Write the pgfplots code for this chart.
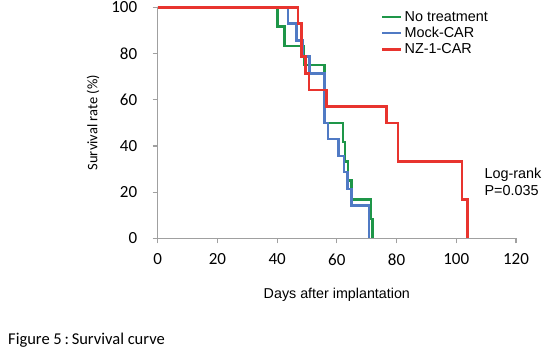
\documentclass[border=0pt]{standalone}
\usepackage{pgfplots}
\pgfplotsset{compat=1.18}
\usepackage{fontspec}
\setmainfont{Liberation Sans}
\newfontfamily\calib{Carlito}
\definecolor{cgreen}{RGB}{30,150,72}
\definecolor{cblue}{RGB}{80,122,196}
\definecolor{cred}{RGB}{232,52,46}
\definecolor{axgray}{RGB}{160,160,160}
\begin{document}
\begin{tikzpicture}[x=1pt,y=1pt]
\path[use as bounding box] (0,0) rectangle (550,357);
\begin{axis}[
  at={(157.7pt,118.7pt)}, anchor=south west,
  scale only axis, width=358.3pt, height=231pt,
  xmin=0, xmax=120, ymin=0, ymax=100,
  axis x line=bottom, axis y line=left,
  axis line style={-, draw=axgray, line width=1.2pt},
  xtick={0,20,...,120}, ytick={0,20,...,100},
  tick align=outside, major tick length=5pt,
  tick style={draw=axgray, line width=1.2pt},
  ticklabel style={font=\calib\fontsize{17}{20}\selectfont, text=black},
  xticklabel style={yshift=-7pt},
  yticklabel style={xshift=-12pt},
  /pgf/number format/assume math mode=true,
  xlabel={Days after implantation},
  ylabel={\calib Survival rate (\%)},
  label style={font=\fontsize{14.3}{17}\selectfont},
  xlabel style={at={(axis description cs:0.5,0)}, anchor=center, yshift=-56.5pt},
  ylabel style={at={(axis description cs:0,0.5)}, anchor=center, rotate=0, yshift=64.7pt, font=\fontsize{14.5}{17}\selectfont},
  legend style={at={(0.623,0.992)}, anchor=north west, draw=none, fill=none,
    font=\fontsize{14.4}{17}\selectfont, inner sep=0pt, row sep=0.5pt,
    legend cell align=left},
  legend image code/.code={\draw[#1] (0pt,0pt) -- (19pt,0pt);},
  clip=false,
]
\addplot[const plot, color=cgreen, line width=2.5pt] coordinates {
(0,100) (40.2,91.7) (42.5,83.3) (49,75) (55.9,50) (62,41.7) (62.7,33.3)
(63.7,25) (64.9,16.7) (71.4,8.3) (71.9,0)};
\addlegendentry{No treatment}
\addplot[const plot, color=cblue, line width=2.5pt] coordinates {
(0,100) (43.6,92.9) (46.5,85.7) (48.6,78.6) (50.9,71.4) (55.9,50) (57.1,42.9)
(60.5,35.7) (62.4,28.6) (63.5,21.4) (64.9,14.3) (70.8,0)};
\addlegendentry{Mock-CAR}
\addplot[const plot, color=cred, line width=2.5pt] coordinates {
(0,100) (47.0,92.9) (48.2,78.6) (49.5,71.4) (50.6,64.3) (56.6,57.1)
(76.6,50) (80.5,33.3) (101.9,16.7) (103.8,0)};
\addlegendentry{NZ-1-CAR}
\node[anchor=west, align=left, font=\fontsize{14.4}{17.5}\selectfont, inner sep=0pt]
  at (axis cs:109.4,24.5) {Log-rank\\P=0.035};
\end{axis}
\node[anchor=west, inner sep=0pt, font=\calib\fontsize{16.5}{19}\selectfont] at (8,17) {Figure 5\,:\,Survival curve};
\end{tikzpicture}
\end{document}
